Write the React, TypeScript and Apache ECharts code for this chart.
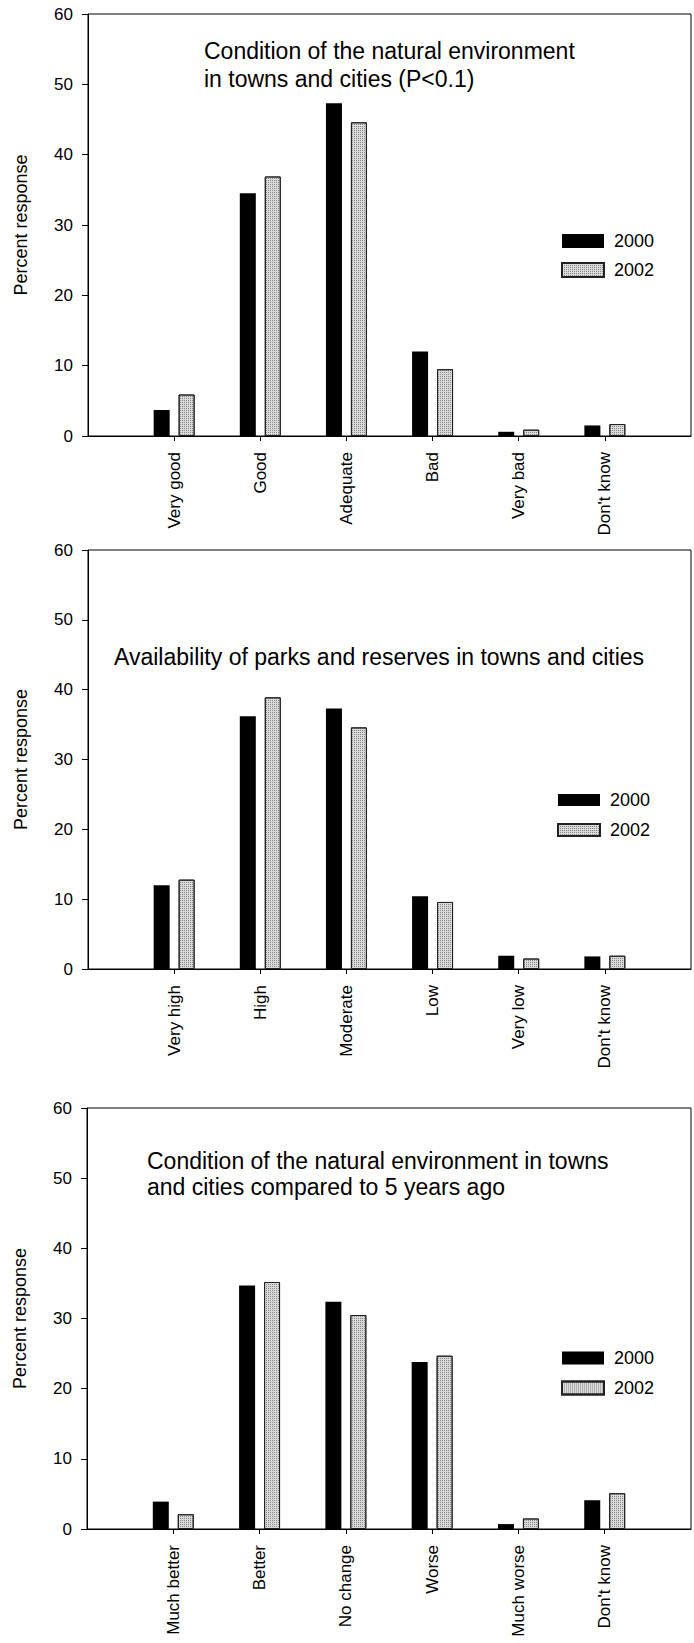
import React, { useEffect, useRef } from "react";
import * as echarts from "echarts";

// Response categories for each of the three survey questions
const conditionCategories = ["Very good", "Good", "Adequate", "Bad", "Very bad", "Don't know"];
const parksCategories = ["Very high", "High", "Moderate", "Low", "Very low", "Don't know"];
const changeCategories = ["Much better", "Better", "No change", "Worse", "Much worse", "Don't know"];

// Percent response by survey year
const condition2000 = [3.7, 34.5, 47.3, 12.0, 0.6, 1.5];
const condition2002 = [5.9, 36.9, 44.6, 9.5, 0.9, 1.7];
const parks2000 = [12.0, 36.2, 37.3, 10.4, 1.9, 1.8];
const parks2002 = [12.8, 38.9, 34.6, 9.6, 1.5, 1.9];
const change2000 = [3.9, 34.7, 32.4, 23.8, 0.7, 4.1];
const change2002 = [2.1, 35.2, 30.5, 24.7, 1.5, 5.1];

const years = ["2000", "2002"];
const yTicks = { min: 0, max: 60, interval: 10 };

const panelTitles = [
  "Condition of the natural environment\nin towns and cities (P<0.1)",
  "Availability of parks and reserves in towns and cities",
  "Condition of the natural environment in towns\nand cities compared to 5 years ago",
];

const FONT = "'Liberation Sans', Arial, Helvetica, sans-serif";

type Panel = {
  categories: string[];
  a: number[];
  b: number[];
  grid: { left: number; top: number; width: number; height: number };
  title: { left: number; top: number; lineHeight: number };
  legend: { left: number; top: number; itemHeight: number; itemGap: number };
};

const panels: Panel[] = [
  {
    categories: conditionCategories,
    a: condition2000,
    b: condition2002,
    grid: { left: 88, top: 14, width: 603, height: 422 },
    title: { left: 204, top: 37, lineHeight: 28 },
    legend: { left: 561, top: 232, itemHeight: 14, itemGap: 11 },
  },
  {
    categories: parksCategories,
    a: parks2000,
    b: parks2002,
    grid: { left: 88, top: 550, width: 603, height: 419 },
    title: { left: 114, top: 643, lineHeight: 28 },
    legend: { left: 557, top: 791, itemHeight: 12, itemGap: 12 },
  },
  {
    categories: changeCategories,
    a: change2000,
    b: change2002,
    grid: { left: 87, top: 1108, width: 604, height: 421 },
    title: { left: 147, top: 1148, lineHeight: 26 },
    legend: { left: 561, top: 1349, itemHeight: 13, itemGap: 12 },
  },
];

// Light grey stippled fill used for the 2002 bars
const stippleStyle = {
  color: "#d9d9d9",
  borderColor: "#222",
  borderWidth: 1,
  decal: {
    symbol: "rect",
    symbolSize: 1,
    color: "rgba(60,60,60,0.5)",
    dashArrayX: [1, 1],
    dashArrayY: [1, 1],
  },
};

function buildOption() {
  const grid = panels.map((p) => ({
    ...p.grid,
    show: true,
    borderColor: "#000",
    borderWidth: 1,
    backgroundColor: "transparent",
  }));

  const xAxis = panels.map((p, i) => {
    // Empty slots at both ends leave a half-gap before the first and after the last group
    const cats = ["", ...p.categories, ""];
    return {
      type: "category",
      gridIndex: i,
      data: cats,
      boundaryGap: false,
      axisLine: { show: true, lineStyle: { color: "#000", width: 1 } },
      axisTick: {
        show: true,
        inside: false,
        length: 5,
        lineStyle: { color: "#000" },
        interval: (idx: number) => idx > 0 && idx < cats.length - 1,
      },
      axisLabel: {
        rotate: 90,
        margin: 16,
        color: "#000",
        fontSize: 17,
        fontFamily: FONT,
        interval: 0,
      },
      splitLine: { show: false },
    };
  });

  const yAxis = panels.map((_, i) => ({
    type: "value",
    gridIndex: i,
    min: yTicks.min,
    max: yTicks.max,
    interval: yTicks.interval,
    name: "Percent response",
    nameLocation: "middle",
    nameRotate: 90,
    nameGap: 58,
    nameTextStyle: { color: "#000", fontSize: 18, fontFamily: FONT },
    axisLine: { show: true, lineStyle: { color: "#000", width: 1 } },
    axisTick: { show: true, inside: false, length: 6, lineStyle: { color: "#000" } },
    axisLabel: { color: "#000", fontSize: 17, fontFamily: FONT, margin: 15 },
    splitLine: { show: false },
  }));

  const series: any[] = [];
  panels.forEach((p, i) => {
    series.push({
      type: "bar",
      name: years[0],
      xAxisIndex: i,
      yAxisIndex: i,
      data: [null, ...p.a, null],
      barWidth: 16,
      barGap: "56%",
      itemStyle: { color: "#000" },
    });
    series.push({
      type: "bar",
      name: years[1],
      xAxisIndex: i,
      yAxisIndex: i,
      data: [null, ...p.b, null],
      barWidth: 16,
      barGap: "56%",
      itemStyle: stippleStyle,
    });
  });

  const title = panels.map((p, i) => ({
    text: panelTitles[i],
    left: p.title.left,
    top: p.title.top,
    padding: 0,
    textStyle: {
      fontFamily: FONT,
      fontSize: 23,
      fontWeight: "normal",
      color: "#000",
      lineHeight: p.title.lineHeight,
    },
  }));

  const legend = panels.map((p) => ({
    data: years,
    orient: "vertical",
    left: p.legend.left,
    top: p.legend.top,
    padding: 0,
    icon: "rect",
    itemWidth: 42,
    itemHeight: p.legend.itemHeight,
    itemGap: p.legend.itemGap,
    selectedMode: false,
    textStyle: { color: "#000", fontSize: 18, fontFamily: FONT, padding: [0, 0, 0, 5] },
  }));

  return {
    animation: false,
    backgroundColor: "#fff",
    title,
    legend,
    grid,
    xAxis,
    yAxis,
    series,
  };
}

export default function App() {
  const ref = useRef<HTMLDivElement>(null);

  useEffect(() => {
    if (!ref.current) return;
    const chart = echarts.init(ref.current, undefined, { renderer: "svg" });
    chart.setOption(buildOption() as any);
    return () => chart.dispose();
  }, []);

  return (
    <div
      ref={ref}
      style={{ position: "absolute", left: 0, top: 0, width: 694, height: 1643 }}
    />
  );
}
